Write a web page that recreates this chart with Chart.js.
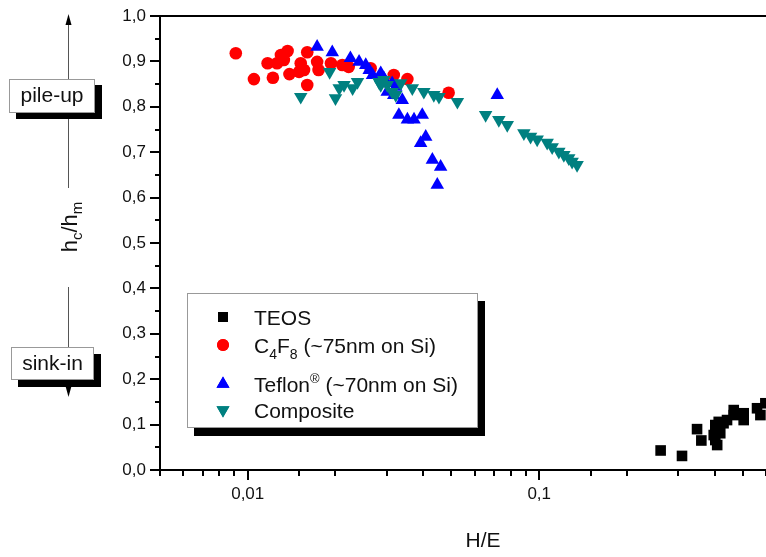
<!DOCTYPE html>
<html>
<head>
<meta charset="utf-8">
<script src="https://cdn.jsdelivr.net/npm/chart.js@4.4.0/dist/chart.umd.min.js"></script>
<style>
    html, body { margin: 0; padding: 0; background: #fff; }
    #wrap { width: 766px; height: 557px; }
</style>
</head>
<body>
<div id="wrap"><canvas id="hardnessChart" width="766" height="557"></canvas></div>
<script>
// H/E vs hc/hm for the four film types
const teosX = [0.261, 0.309, 0.348, 0.360, 0.397, 0.402, 0.402, 0.408, 0.413, 0.418, 0.429, 0.441, 0.465, 0.465, 0.503, 0.503, 0.559, 0.574, 0.597, 0.408];
const teosY = [0.043, 0.031, 0.090, 0.065, 0.077, 0.066, 0.099, 0.088, 0.106, 0.081, 0.103, 0.110, 0.121, 0.132, 0.125, 0.110, 0.136, 0.121, 0.147, 0.055];

const c4f8X = [0.0091, 0.0105, 0.0117, 0.0122, 0.0130, 0.0137, 0.0126, 0.0139, 0.0152, 0.0156, 0.0160, 0.0160, 0.0150, 0.0173, 0.0175, 0.0193, 0.0211, 0.0222, 0.0133, 0.0264, 0.0317, 0.0353, 0.0489];
const c4f8Y = [0.918, 0.861, 0.896, 0.864, 0.914, 0.923, 0.896, 0.872, 0.896, 0.881, 0.920, 0.848, 0.877, 0.899, 0.881, 0.896, 0.892, 0.888, 0.903, 0.885, 0.870, 0.861, 0.831];

const teflonX = [0.0173, 0.0195, 0.0225, 0.0241, 0.0254, 0.0261, 0.0268, 0.0286, 0.0293, 0.0313, 0.0322, 0.0301, 0.0317, 0.0339, 0.0330, 0.0353, 0.0372, 0.0397, 0.0408, 0.0392, 0.0430, 0.0459, 0.0447, 0.0718];
const teflonY = [0.932, 0.920, 0.907, 0.899, 0.892, 0.881, 0.870, 0.874, 0.863, 0.852, 0.844, 0.833, 0.826, 0.815, 0.782, 0.772, 0.772, 0.782, 0.734, 0.720, 0.683, 0.668, 0.628, 0.826];

const compX = [0.0152, 0.0191, 0.0200, 0.0206, 0.0214, 0.0229, 0.0238, 0.0282, 0.0293, 0.0301, 0.0286, 0.0313, 0.0322, 0.0335, 0.0367, 0.0402, 0.0435, 0.0453, 0.0524, 0.0655, 0.0727, 0.0777, 0.0886, 0.0934, 0.0984, 0.1065, 0.1108, 0.1168, 0.1215, 0.1263, 0.1297, 0.1349];
const compY = [0.822, 0.877, 0.819, 0.841, 0.848, 0.841, 0.855, 0.855, 0.859, 0.848, 0.848, 0.833, 0.826, 0.852, 0.841, 0.833, 0.826, 0.822, 0.811, 0.782, 0.771, 0.760, 0.742, 0.734, 0.728, 0.721, 0.711, 0.701, 0.694, 0.687, 0.679, 0.672];

const FONT = '"Liberation Sans", Arial, Helvetica, sans-serif';
const TEXT = '#111';
// plot box inside the canvas
const BOX = { left: 160, right: 766, top: 16, bottom: 470 };

function pts(xs, ys) {
    return xs.map((x, i) => ({ x: x, y: ys[i] }));
}

function isDecade(v) {
    const l = Math.log10(v);
    return Math.abs(l - Math.round(l)) < 1e-9;
}

// text runs with different sizes / offsets (sub- and superscripts)
function richWidth(ctx, parts) {
    let w = 0;
    parts.forEach(p => {
        ctx.font = p.size + 'px ' + FONT;
        w += ctx.measureText(p.t).width;
    });
    return w;
}

function drawRich(ctx, parts, x, y) {
    parts.forEach(p => {
        ctx.font = p.size + 'px ' + FONT;
        ctx.fillText(p.t, x, y + (p.dy || 0));
        x += ctx.measureText(p.t).width;
    });
}

function shadowBox(ctx, x, y, w, h, dx, dy) {
    ctx.fillStyle = '#000';
    ctx.fillRect(x + dx, y + dy, w, h);
    ctx.fillStyle = '#fff';
    ctx.fillRect(x, y, w, h);
    ctx.strokeStyle = '#999';
    ctx.lineWidth = 1;
    ctx.strokeRect(x + 0.5, y + 0.5, w - 1, h - 1);
}

function marker(ctx, style, x, y, color) {
    ctx.fillStyle = color;
    Chart.helpers.drawPoint(ctx, { pointStyle: style.pointStyle, rotation: style.rotation || 0, radius: style.radius, borderWidth: 0 }, x, y);
    ctx.fill();
}

// keep the plot area at a fixed place whatever the label padding says
const pinArea = {
    id: 'pinArea',
    afterLayout(chart) {
        const a = chart.chartArea;
        a.left = BOX.left; a.right = BOX.right; a.top = BOX.top; a.bottom = BOX.bottom;
        a.width = BOX.right - BOX.left; a.height = BOX.bottom - BOX.top;
        const x = chart.scales.x, y = chart.scales.y;
        x.left = BOX.left; x.right = BOX.right; x.width = a.width;
        x.top = BOX.bottom; x.bottom = chart.height; x.height = chart.height - BOX.bottom;
        y.left = 0; y.right = BOX.left; y.width = BOX.left;
        y.top = BOX.top; y.bottom = BOX.bottom; y.height = a.height;
        x.configure();
        y.configure();
    }
};

const decorPlugin = {
    id: 'decor',
    afterDraw(chart) {
        const ctx = chart.ctx;
        const area = chart.chartArea;
        const xs = chart.scales.x;
        const ys = chart.scales.y;
        ctx.save();

        // frame top
        ctx.strokeStyle = '#000';
        ctx.lineWidth = 2;
        ctx.beginPath();
        ctx.moveTo(area.left - 1, area.top);
        ctx.lineTo(area.right, area.top);
        ctx.stroke();

        // y ticks, major every 0.1 and minor in between
        for (let i = 0; i <= 20; i++) {
            const py = Math.round(ys.getPixelForValue(i * 0.05));
            const len = i % 2 === 0 ? 10 : 5;
            ctx.beginPath();
            ctx.moveTo(area.left, py);
            ctx.lineTo(area.left - len, py);
            ctx.stroke();
        }

        // x ticks on the log axis
        xs.ticks.forEach(t => {
            const px = Math.round(xs.getPixelForValue(t.value));
            const len = isDecade(t.value) ? 10 : 6;
            ctx.beginPath();
            ctx.moveTo(px, area.bottom);
            ctx.lineTo(px, area.bottom + len);
            ctx.stroke();
        });

        // x title
        ctx.fillStyle = TEXT;
        ctx.textAlign = 'center';
        ctx.textBaseline = 'middle';
        ctx.font = '21px ' + FONT;
        ctx.fillText('H/E', 483, 541);

        // pile-up / sink-in arrow
        ctx.strokeStyle = '#555';
        ctx.lineWidth = 1;
        ctx.beginPath();
        ctx.moveTo(68.5, 22);
        ctx.lineTo(68.5, 188);
        ctx.moveTo(68.5, 287);
        ctx.lineTo(68.5, 390);
        ctx.stroke();
        ctx.fillStyle = '#000';
        ctx.beginPath();
        ctx.moveTo(68.5, 14);
        ctx.lineTo(65.5, 25);
        ctx.lineTo(71.5, 25);
        ctx.closePath();
        ctx.fill();
        ctx.beginPath();
        ctx.moveTo(68.5, 397);
        ctx.lineTo(65.5, 386);
        ctx.lineTo(71.5, 386);
        ctx.closePath();
        ctx.fill();

        shadowBox(ctx, 9, 79, 86, 34, 7, 6);
        shadowBox(ctx, 11, 347, 83, 33, 7, 7);
        ctx.fillStyle = TEXT;
        ctx.font = '21px ' + FONT;
        ctx.textAlign = 'center';
        ctx.textBaseline = 'middle';
        ctx.fillText('pile-up', 52, 96);
        ctx.fillText('sink-in', 52.5, 364);

        // y title hc/hm, rotated
        const yTitle = [
            { t: 'h', size: 22 },
            { t: 'c', size: 15, dy: 5 },
            { t: '/h', size: 22 },
            { t: 'm', size: 15, dy: 5 }
        ];
        ctx.save();
        ctx.translate(77, 227);
        ctx.rotate(-Math.PI / 2);
        ctx.textAlign = 'left';
        ctx.textBaseline = 'alphabetic';
        const tw = richWidth(ctx, yTitle);
        drawRich(ctx, yTitle, -tw / 2, 0);
        ctx.restore();

        // legend
        shadowBox(ctx, 187, 293, 291, 135, 7, 8);
        const rows = [
            { style: { pointStyle: 'rect', radius: 7 }, color: '#000', y: 317,
              parts: [{ t: 'TEOS', size: 21 }] },
            { style: { pointStyle: 'circle', radius: 6 }, color: '#ff0000', y: 345,
              parts: [{ t: 'C', size: 21 }, { t: '4', size: 14, dy: 6 }, { t: 'F', size: 21 }, { t: '8', size: 14, dy: 6 }, { t: ' (~75nm on Si)', size: 21 }] },
            { style: { pointStyle: 'triangle', radius: 7.5 }, color: '#0000ff', y: 384,
              parts: [{ t: 'Teflon', size: 21 }, { t: '\u00AE', size: 13, dy: -9 }, { t: ' (~70nm on Si)', size: 21 }] },
            { style: { pointStyle: 'triangle', rotation: 180, radius: 7.5 }, color: '#008080', y: 410,
              parts: [{ t: 'Composite', size: 21 }] }
        ];
        rows.forEach(r => {
            marker(ctx, r.style, 223, r.y, r.color);
            ctx.fillStyle = TEXT;
            ctx.textAlign = 'left';
            ctx.textBaseline = 'alphabetic';
            drawRich(ctx, r.parts, 254, r.y + 7.5);
        });

        ctx.restore();
    }
};

const ctx = document.getElementById('hardnessChart').getContext('2d');
const chart = new Chart(ctx, {
    type: 'scatter',
    data: {
        datasets: [
            {
                label: 'TEOS',
                data: pts(teosX, teosY),
                pointStyle: 'rect',
                pointRadius: 7.5,
                backgroundColor: '#000',
                borderColor: '#000',
                borderWidth: 0,
                clip: false,
                order: 4
            },
            {
                label: 'C4F8 (~75nm on Si)',
                data: pts(c4f8X, c4f8Y),
                pointStyle: 'circle',
                pointRadius: 6.3,
                backgroundColor: '#ff0000',
                borderColor: '#ff0000',
                borderWidth: 0,
                order: 3
            },
            {
                label: 'Teflon (~70nm on Si)',
                data: pts(teflonX, teflonY),
                pointStyle: 'triangle',
                pointRadius: 7.8,
                backgroundColor: '#0000ff',
                borderColor: '#0000ff',
                borderWidth: 0,
                order: 2
            },
            {
                label: 'Composite',
                data: pts(compX, compY),
                pointStyle: 'triangle',
                rotation: 180,
                pointRadius: 7.8,
                backgroundColor: '#008080',
                borderColor: '#008080',
                borderWidth: 0,
                order: 1
            }
        ]
    },
    options: {
        responsive: false,
        animation: false,
        layout: {
            padding: { left: 0, right: 0, top: 16, bottom: 0 }
        },
        plugins: {
            legend: { display: false },
            tooltip: { enabled: false }
        },
        scales: {
            x: {
                type: 'logarithmic',
                position: 'bottom',
                min: 0.005,
                max: 0.6,
                border: { display: true, color: '#000', width: 2 },
                grid: { display: false, drawTicks: false },
                ticks: {
                    autoSkip: false,
                    maxRotation: 0,
                    padding: 14,
                    color: TEXT,
                    font: { family: FONT, size: 17 },
                    callback: function(value) {
                        return isDecade(value) ? String(value).replace('.', ',') : '';
                    }
                },
                afterFit: function(scale) {
                    scale.height = 87;
                }
            },
            y: {
                min: 0,
                max: 1,
                border: { display: true, color: '#000', width: 2 },
                grid: { display: false, drawTicks: false },
                ticks: {
                    stepSize: 0.1,
                    padding: 14,
                    color: TEXT,
                    font: { family: FONT, size: 17 },
                    callback: function(value) {
                        return value.toFixed(1).replace('.', ',');
                    }
                },
                afterFit: function(scale) {
                    scale.width = 160;
                }
            }
        }
    },
    plugins: [pinArea, decorPlugin]
});
</script>
</body>
</html>
